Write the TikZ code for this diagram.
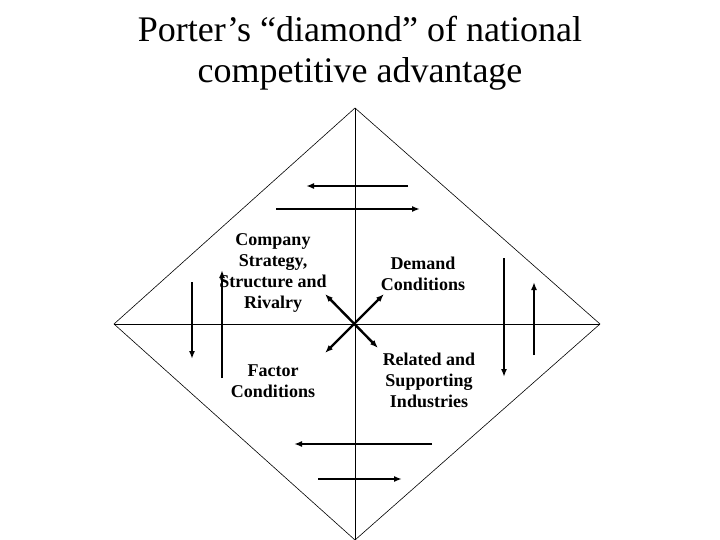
\documentclass[tikz,border=0pt]{standalone}
\usepackage{fontspec}
\setmainfont{Liberation Serif}
\usetikzlibrary{arrows.meta,positioning}
\tikzset{
    >={Latex[length=8pt,width=6pt]},
    heading/.style={
        align=center,
        inner sep=0pt,
        font=\fontsize{36}{41}\selectfont
    },
    forcebox/.style={
        align=center,
        inner sep=0pt,
        font=\bfseries\fontsize{18}{21}\selectfont
    },
    rim/.style={draw, line width=0.6pt},
    axisline/.style={draw, line width=1pt},
    flow/.style={draw, line width=2.4pt, ->},
    twoway/.style={draw, line width=2.4pt, <->}
}
\begin{document}
\begin{tikzpicture}[x=1pt, y=-1pt]
    \useasboundingbox (0,0) rectangle (720,540);

    % title
    \node[heading] (title) at (360,53) {Porter’s “diamond” of national\\competitive advantage};

    % the diamond and its two axes
    \coordinate (top) at (355,108);
    \coordinate (left) at (114,324);
    \coordinate (right) at (600,324);
    \coordinate (bottom) at (355,540);
    \coordinate (mid) at (355,324);
    \draw[rim] (top) -- (right) -- (bottom) -- (left) -- cycle;
    \draw[axisline] (top) -- (bottom);
    \draw[axisline] (left) -- (right);

    % the four determinants
    \node[forcebox] (strategy) at (273,273) {Company\\Strategy,\\Structure and\\Rivalry};
    \node[forcebox] (demand) at (423,274) {Demand\\Conditions};
    \node[forcebox] (factor) at (273,381) {Factor\\Conditions};
    \node[forcebox] (related) at (429,380) {Related and\\Supporting\\Industries};

    % links through the centre
    \coordinate (nw) at (325,294);
    \coordinate (ne) at (384,294);
    \coordinate (sw) at (325,353);
    \coordinate (se) at (378,348);
    \draw[twoway] (nw) -- (se);
    \draw[twoway] (sw) -- (ne);

    % top pair
    \coordinate (t1a) at (408,186);  \coordinate (t1b) at (306,186);
    \coordinate (t2a) at (276,209);  \coordinate (t2b) at (420,209);
    % bottom pair
    \coordinate (b1a) at (432,444);  \coordinate (b1b) at (294,444);
    \coordinate (b2a) at (318,479);  \coordinate (b2b) at (402,479);
    % left pair
    \coordinate (l1a) at (192,282);  \coordinate (l1b) at (192,359);
    \coordinate (l2a) at (222,378);  \coordinate (l2b) at (222,270);
    % right pair
    \coordinate (r1a) at (504,258);  \coordinate (r1b) at (504,377);
    \coordinate (r2a) at (534,355);  \coordinate (r2b) at (534,282);

    \foreach \a/\b in {t1a/t1b, t2a/t2b, b1a/b1b, b2a/b2b,
                       l1a/l1b, l2a/l2b, r1a/r1b, r2a/r2b}
        \draw[flow] (\a) -- (\b);
\end{tikzpicture}
\end{document}
